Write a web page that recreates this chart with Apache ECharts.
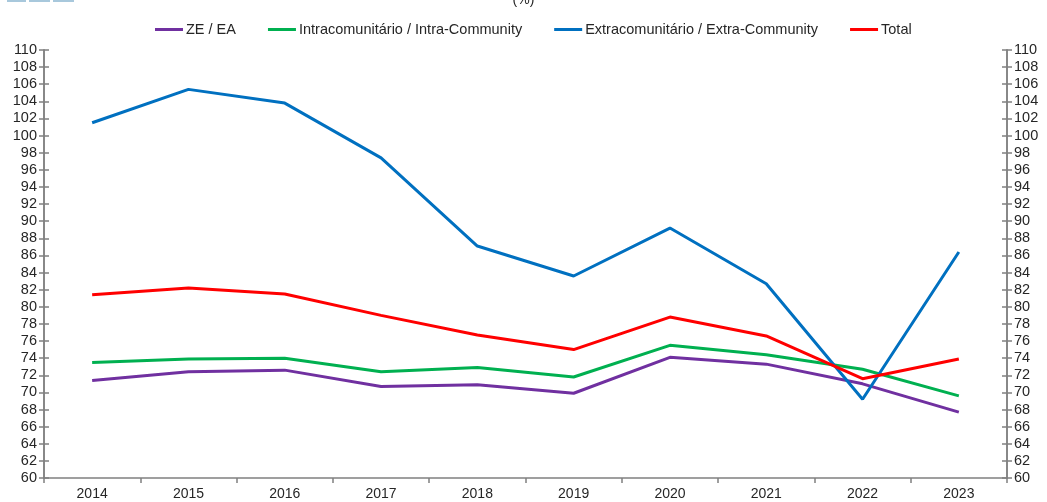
<!DOCTYPE html>
<html>
<head>
<meta charset="utf-8">
<script src="https://cdn.jsdelivr.net/npm/echarts@6/dist/echarts.min.js"></script>
<style>
html,body{margin:0;padding:0;background:#fff;}
#chart{width:1047px;height:502px;}
</style>
</head>
<body>
<div id="chart"></div>
<script>
const years = ['2014','2015','2016','2017','2018','2019','2020','2021','2022','2023'];
const zeEA = [71.4, 72.4, 72.6, 70.7, 70.9, 69.9, 74.1, 73.3, 71.0, 67.7];
const intra = [73.5, 73.9, 74.0, 72.4, 72.9, 71.8, 75.5, 74.4, 72.7, 69.6];
const extra = [101.5, 105.4, 103.8, 97.4, 87.1, 83.6, 89.2, 82.7, 69.2, 86.4];
const total = [81.4, 82.2, 81.5, 79.0, 76.7, 75.0, 78.8, 76.6, 71.6, 73.9];
const names = ['ZE / EA', 'Intracomunitário / Intra-Community', 'Extracomunitário / Extra-Community', 'Total'];
const colors = ['#7030A0', '#00B050', '#0070C0', '#FF0000'];

const axisColor = '#808080';
const font = 'Liberation Sans, Arial, sans-serif';
function yAx(pos, inside, labels) {
  return {
    type: 'value', position: pos, min: 60, max: 110, interval: 2,
    axisLine: {show: true, lineStyle: {color: axisColor, width: 1.5}},
    axisTick: {show: true, inside: inside, length: 5, lineStyle: {color: axisColor, width: 1.5}},
    axisLabel: {show: labels, color: '#262626', fontSize: 14.5, fontFamily: font, margin: 7},
    splitLine: {show: false}
  };
}
const chart = echarts.init(document.getElementById('chart'));
const seriesData = [zeEA, intra, extra, total];
chart.setOption({
  animation: false,
  title: {text: '(%)', left: 'center', top: -12, textStyle: {fontSize: 14, fontWeight: 'normal', color: '#262626', fontFamily: font}},
  legend: {
    top: 17, left: 150, itemWidth: 28, itemHeight: 3, itemGap: 32,
    icon: 'rect',
    textStyle: {fontSize: 14.5, color: '#262626', fontFamily: font, padding: [0,0,0,-2]},
    data: names
  },
  grid: {left: 44, right: 40, top: 50, bottom: 24, containLabel: false},
  xAxis: {
    type: 'category', data: years, boundaryGap: true,
    axisLine: {lineStyle: {color: axisColor, width: 1.5}},
    axisTick: {show: true, length: 5, lineStyle: {color: axisColor, width: 1.5}},
    axisLabel: {color: '#262626', fontSize: 14, fontFamily: font, margin: 9}
  },
  yAxis: [yAx('left', false, true), yAx('right', false, true), yAx('left', true, false), yAx('right', true, false)],
  series: seriesData.map((d, i) => ({
    name: names[i], type: 'line', data: d, yAxisIndex: 0,
    symbol: 'none', lineStyle: {width: 3, color: colors[i]}, itemStyle: {color: colors[i]}
  })),
  graphic: [
    {type: 'rect', shape: {x: 7, y: 0, width: 19, height: 2}, style: {fill: '#a8c8dc'}},
    {type: 'rect', shape: {x: 29, y: 0, width: 21, height: 2}, style: {fill: '#a8c8dc'}},
    {type: 'rect', shape: {x: 53, y: 0, width: 21, height: 2}, style: {fill: '#a8c8dc'}}
  ]
});
</script>
</body>
</html>
